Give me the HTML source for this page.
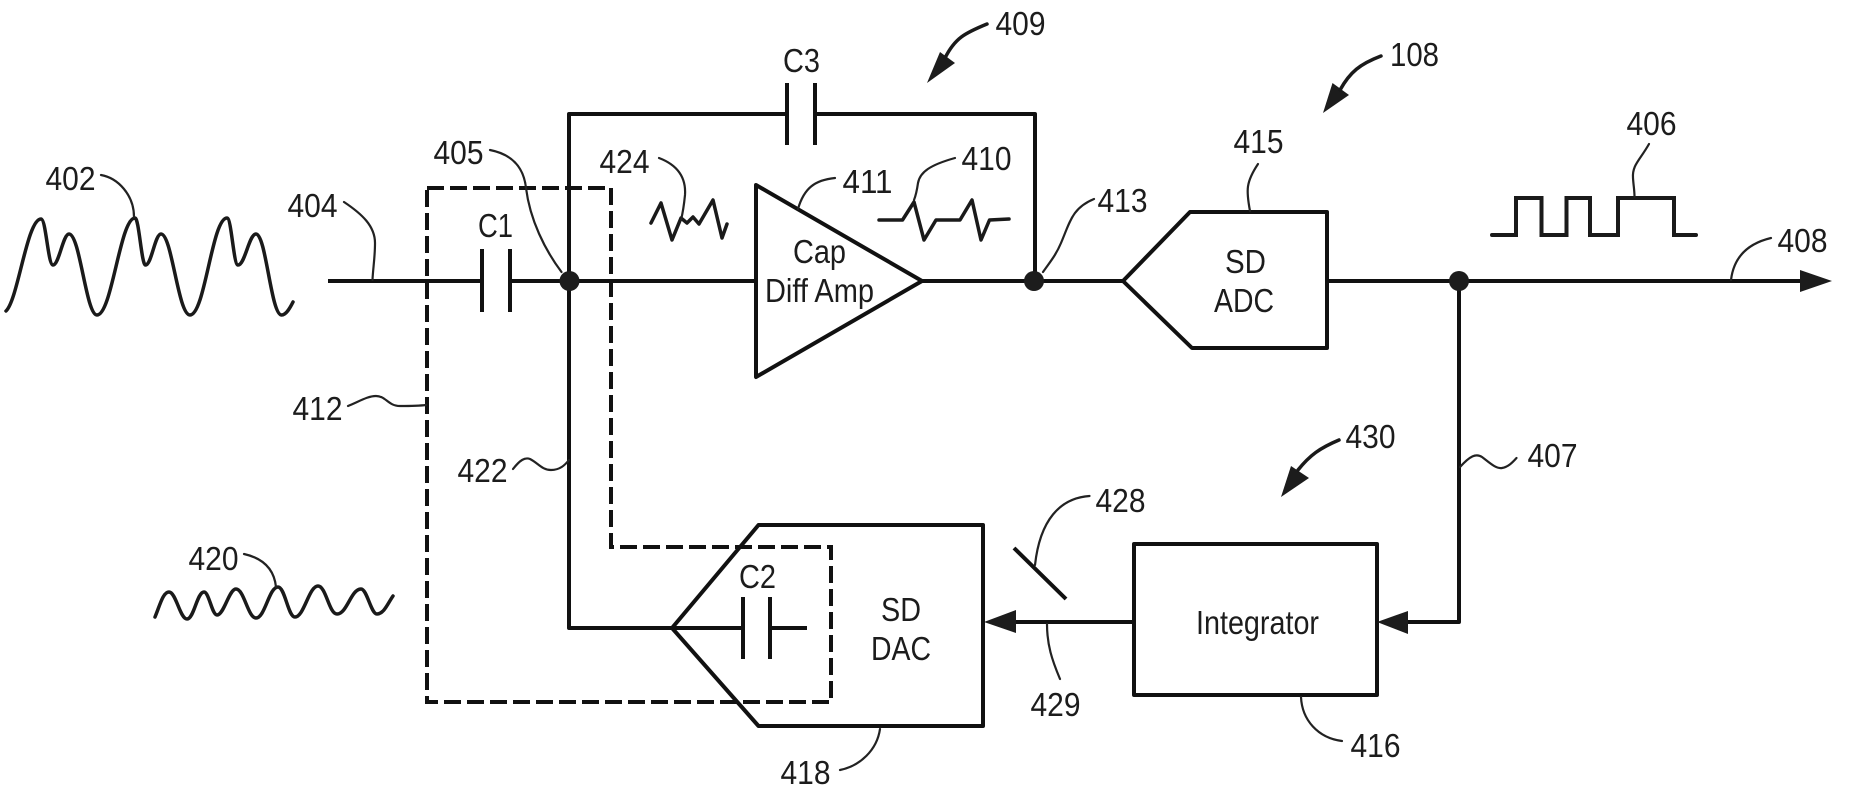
<!DOCTYPE html>
<html><head><meta charset="utf-8"><title>Diagram</title>
<style>
html,body{margin:0;padding:0;background:#fff}
svg{display:block}
text{font-family:"Liberation Sans",sans-serif;font-size:33px;fill:#1c1c1c;stroke:none}
.w{fill:none;stroke:#111;stroke-width:4;stroke-linejoin:round;stroke-linecap:butt}
.m{fill:none;stroke:#1a1a1a;stroke-width:3.5;stroke-linejoin:round;stroke-linecap:round}
.l{fill:none;stroke:#222;stroke-width:2.2;stroke-linecap:round}
.d{fill:none;stroke:#111;stroke-width:4;stroke-dasharray:17 6}
.f{fill:#1c1c1c;stroke:none}
</style></head><body>
<svg width="1853" height="792" viewBox="0 0 1853 792" xmlns="http://www.w3.org/2000/svg">
<!-- main wires -->
<path class="w" d="M328 281H482M510 281H756M922 281H1123M1327 281H1802"/>
<path class="w" d="M569 281V114H787M815 114H1035V281"/>
<path class="w" d="M569 281V628H743M770 628H807"/>
<path class="w" d="M1459 281V622H1406"/>
<path class="w" d="M1134 622H1014"/>
<!-- capacitors -->
<path class="w" d="M482 249V312M510 249V312M787 83V145M815 83V145M743 597V659M770 597V659"/>
<!-- components -->
<path class="w" d="M756 185L922 281L756 377Z"/>
<path class="w" d="M1123 281L1190 212H1327V348H1192Z"/>
<path class="w" d="M672 628L758.5 525H983V726H758.5Z"/>
<rect class="w" x="1134" y="544" width="243" height="151"/>
<path class="w" d="M1014 548L1066 599"/>
<!-- dashed box -->
<path class="d" d="M427 188H611V547H831V702H427Z"/>
<!-- nodes -->
<circle class="f" cx="569.5" cy="281" r="10"/>
<circle class="f" cx="1034" cy="281" r="10"/>
<circle class="f" cx="1459" cy="281" r="10"/>
<!-- arrowheads -->
<path class="f" d="M1800 270L1832 281L1800 292Z"/>
<path class="f" d="M1377 622L1408 611V634Z"/>
<path class="f" d="M984 622L1016 610V633Z"/>
<path class="f" d="M927 83L940 52L955 63Z"/>
<path class="f" d="M1323 113L1332.5 83L1349 95Z"/>
<path class="f" d="M1281 497L1291 466L1309 478Z"/>
<!-- waveforms -->
<path class="m" d="M6 311C18 300 27 219 41 219C46 219 48 265 53 265C59 265 63 234 69 234C80 234 86 315 97 315C112 315 120 218 135 218C139 218 141.500 265 145.500 265C151.500 265 155 234 161 234C172 234 178 315 190 315C205 315 212 218 227 218C231.500 218 233.500 265 238 265C245 265 249 234 256 234C266 234 271 315 281.500 315C286 315 290 308 293 302"/>
<path class="m" d="M155 617C160 605 163 592 169 592C176 592 180 619 187 619C194 619 197 592 204 592C209 592 212 615 217 615C224 615 229 589 236 589C244 589 248 618 256 618C265 618 269 587 278 587C285 587 288 617 295 617C304 617 309 586 318 586C326 586 329 614 337 614C347 614 351 589 361 589C367 589 371 614 377 614C384 614 388 603 393 596"/>
<polyline class="m" points="651,223 661,203 672,240 681,218 687,223 693,217 699,224 713,200 722,238 727,224"/>
<polyline class="m" points="879,220 902.5,220 914,202 924,240 936,220 960,220 972,200 981,240 989.5,220 1009,219"/>
<polyline class="m" style="stroke-width:4;stroke-linejoin:miter" points="1492,235 1516,235 1516,198 1541.5,198 1541.5,235 1566.5,235 1566.5,198 1590,198 1590,235 1618,235 1618,198 1674,198 1674,235 1696,235"/>
<!-- leader lines -->
<path class="l" d="M101 175C118 178 134 195 134 217"/>
<path class="l" d="M344 202C362 214 375 226 375 243C375 258 373 268 372.5 280"/>
<path class="l" d="M490 150C515 155 524 170 526 188C530 220 545 250 561.5 272"/>
<path class="l" d="M659 158C680 166 686 180 685 195C684 205 683 212 681 220"/>
<path class="l" d="M835 178C815 180 804 188 798 209"/>
<path class="l" d="M955 158C930 165 920 172 918 183C917 190 916 195 914 200"/>
<path class="l" d="M1094 199C1072 208 1070 222 1061 243C1056 255 1050 262 1043 272"/>
<path class="l" d="M1258 164C1246 182 1246 190 1250 211"/>
<path class="l" d="M1649 144C1640 160 1632 165 1633 178C1633.500 186 1634.500 190 1634.500 197"/>
<path class="l" d="M1771 238C1750 243 1734 255 1731 280"/>
<path class="l" d="M348 406C360 401 368 396 376 396C386 396 388 406 400 406C410 406 418 406 426 405"/>
<path class="l" d="M513 469C520 460 525 457 530 459C538 463 542 470 551 470C560 470 565 465 569 460"/>
<path class="l" d="M244 554C262 558 274 568 276 587"/>
<path class="l" d="M1089.500 496C1060 498 1040 520 1035 565"/>
<path class="l" d="M1047 624C1047 645 1052 660 1060 679"/>
<path class="l" d="M880 729C877 750 860 766 840 770"/>
<path class="l" d="M1301 697C1302 720 1318 738 1342 741"/>
<path class="l" d="M1460 467C1470 456 1476 453 1482 457C1490 463 1496 469 1502 468C1508 467 1512 463 1516.500 458"/>
<path class="m" d="M987 24C965 33 955 38 945 58"/>
<path class="m" d="M1381 56C1360 64 1350 72 1340 90"/>
<path class="m" d="M1339 440C1320 448 1310 455 1298 470"/>
<!-- labels -->
<text x="45.500" y="190" textLength="50" lengthAdjust="spacingAndGlyphs">402</text>
<text x="287.500" y="217" textLength="50" lengthAdjust="spacingAndGlyphs">404</text>
<text x="433.500" y="164" textLength="50" lengthAdjust="spacingAndGlyphs">405</text>
<text x="599.500" y="173" textLength="50" lengthAdjust="spacingAndGlyphs">424</text>
<text x="995.500" y="35" textLength="50" lengthAdjust="spacingAndGlyphs">409</text>
<text x="842.500" y="193" textLength="50" lengthAdjust="spacingAndGlyphs">411</text>
<text x="961.500" y="170" textLength="50" lengthAdjust="spacingAndGlyphs">410</text>
<text x="1097.500" y="212" textLength="50" lengthAdjust="spacingAndGlyphs">413</text>
<text x="1390" y="66" textLength="49" lengthAdjust="spacingAndGlyphs">108</text>
<text x="1233.500" y="153" textLength="50" lengthAdjust="spacingAndGlyphs">415</text>
<text x="1626.500" y="135" textLength="50" lengthAdjust="spacingAndGlyphs">406</text>
<text x="1777.500" y="252" textLength="50" lengthAdjust="spacingAndGlyphs">408</text>
<text x="292.500" y="420" textLength="50" lengthAdjust="spacingAndGlyphs">412</text>
<text x="457.500" y="482" textLength="50" lengthAdjust="spacingAndGlyphs">422</text>
<text x="188.500" y="570" textLength="50" lengthAdjust="spacingAndGlyphs">420</text>
<text x="1345.500" y="448" textLength="50" lengthAdjust="spacingAndGlyphs">430</text>
<text x="1527.500" y="467" textLength="50" lengthAdjust="spacingAndGlyphs">407</text>
<text x="1350.500" y="757" textLength="50" lengthAdjust="spacingAndGlyphs">416</text>
<text x="1095.500" y="512" textLength="50" lengthAdjust="spacingAndGlyphs">428</text>
<text x="1030.500" y="716" textLength="50" lengthAdjust="spacingAndGlyphs">429</text>
<text x="780.500" y="784" textLength="50" lengthAdjust="spacingAndGlyphs">418</text>
<text x="478" y="237" textLength="35" lengthAdjust="spacingAndGlyphs">C1</text>
<text x="783" y="72" textLength="37" lengthAdjust="spacingAndGlyphs">C3</text>
<text x="739" y="588" textLength="37" lengthAdjust="spacingAndGlyphs">C2</text>
<text x="793" y="263" textLength="53" lengthAdjust="spacingAndGlyphs">Cap</text>
<text x="765" y="302" textLength="109" lengthAdjust="spacingAndGlyphs">Diff Amp</text>
<text x="1225" y="273" textLength="41" lengthAdjust="spacingAndGlyphs">SD</text>
<text x="1214" y="312" textLength="60" lengthAdjust="spacingAndGlyphs">ADC</text>
<text x="881" y="621" textLength="40" lengthAdjust="spacingAndGlyphs">SD</text>
<text x="871" y="660" textLength="60" lengthAdjust="spacingAndGlyphs">DAC</text>
<text x="1196" y="634" textLength="123" lengthAdjust="spacingAndGlyphs">Integrator</text>
</svg>
</body></html>
